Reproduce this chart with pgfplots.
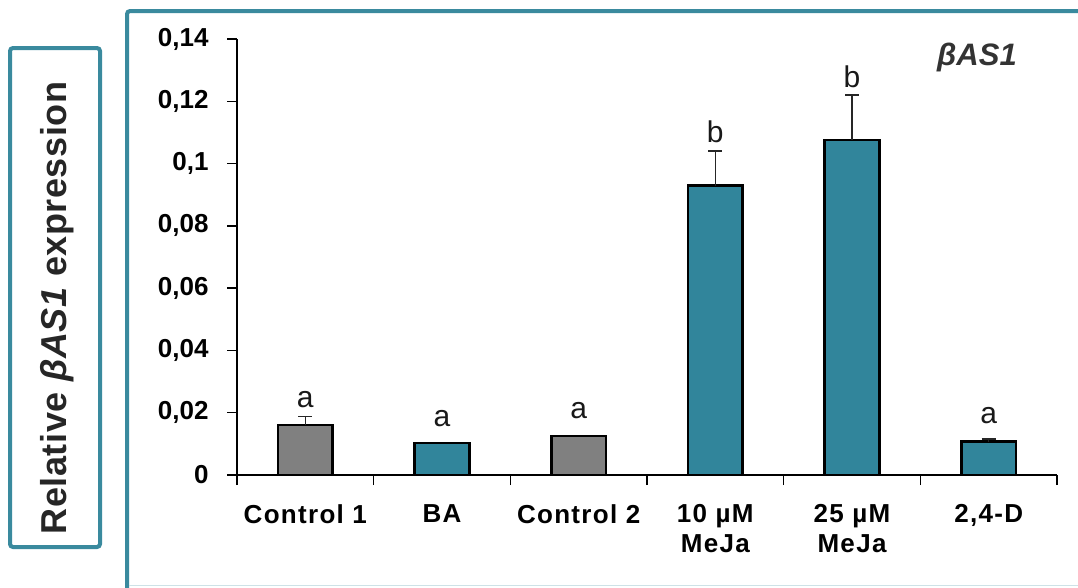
\documentclass[border=0pt]{standalone}
\usepackage{fontspec}
\setmainfont{Liberation Sans}
\newfontfamily\spaced[LetterSpace=5]{Liberation Sans}
\newfontfamily\spacedlab[LetterSpace=1.5]{Liberation Sans}
\usepackage{pgfplots}
\pgfplotsset{compat=1.18}
\definecolor{tealbar}{RGB}{49,133,155}
\definecolor{framecol}{RGB}{58,138,158}
\definecolor{graybar}{RGB}{128,128,128}

\pgfplotsset{
  mybar/.style={ybar, bar width=0.4, bar shift=0pt, draw=black, line width=2.5pt},
  myerr/.style={error bars/.cd, y dir=plus, y explicit,
    error bar style={line width=1.5pt, black!85},
    error mark options={rotate=90, mark size=7pt, line width=1.5pt, black!85}},
}

\begin{document}
\begin{tikzpicture}
\useasboundingbox (0,0) rectangle (1078pt,-587pt);
% frames round the label and the chart
\draw[framecol, line width=4pt, rounded corners=3pt] (10pt,-48pt) rectangle (100pt,-547pt);
\draw[framecol, line width=4pt, rounded corners=3pt] (127pt,-11pt) rectangle (1110pt,-600pt);
\draw[framecol!25, line width=1.2pt] (129pt,-585.5pt) -- (1078pt,-585.5pt);
\node[rotate=90, font=\spacedlab\bfseries\fontsize{36}{36}\selectfont, text=black!85] at (57pt,-308pt)
  {Relative \textit{βAS1} expression};

\begin{axis}[
  at={(237pt,-475pt)}, anchor=south west,
  scale only axis, width=820pt, height=436pt,
  xmin=-0.5, xmax=5.5, ymin=0, ymax=0.14,
  axis x line*=bottom, axis y line*=left,
  xtick pos=bottom, ytick pos=left,
  axis line style={black, line width=1.8pt, -},
  tick align=outside,
  major tick length=10pt,
  xtick style={black, line width=1.5pt},
  ytick style={black, line width=1.5pt},
  ytick={0,0.02,0.04,0.06,0.08,0.1,0.12,0.14},
  yticklabel style={xshift=-15pt, font=\bfseries\fontsize{26}{26}\selectfont,
    /pgf/number format/.cd, use comma, fixed, precision=2, assume math mode=true},
  xtick={-0.5,0.5,1.5,2.5,3.5,4.5,5.5},
  x tick label as interval,
  xticklabels={Control 1, BA, Control 2, {10 µM\\MeJa}, {25 µM\\MeJa}, {2,4-D}},
  xticklabel style={align=center, yshift=-16pt,
      font=\spaced\bfseries\fontsize{26}{30}\selectfont},
  clip=false,
]
\addplot[mybar, fill=graybar, myerr] coordinates {(0,0.0161) +- (0,0.0027)};
\addplot[mybar, fill=graybar] coordinates {(2,0.0125)};
\addplot[mybar, fill=tealbar] coordinates {(1,0.0103)};
\addplot[mybar, fill=tealbar, myerr] coordinates {
  (3,0.0929) +- (0,0.0111)
  (4,0.1076) +- (0,0.0145)
  (5,0.0107) +- (0,0.0008)
};
% significance letters
\addplot[draw=none, mark=none, nodes near coords, point meta=explicit symbolic,
  every node near coord/.append style={anchor=base, inner sep=0pt,
    font=\fontsize{30}{30}\selectfont, text=black!90}]
  table[meta=l] {
x y l
0 0.0218 a
1 0.0157 a
2 0.0183 a
3 0.1069 b
4 0.1243 b
5 0.0167 a
};
\end{axis}
\node[font=\bfseries\itshape\fontsize{31}{31}\selectfont, text=black!80] at (977pt,-57pt) {βAS1};
\end{tikzpicture}
\end{document}
